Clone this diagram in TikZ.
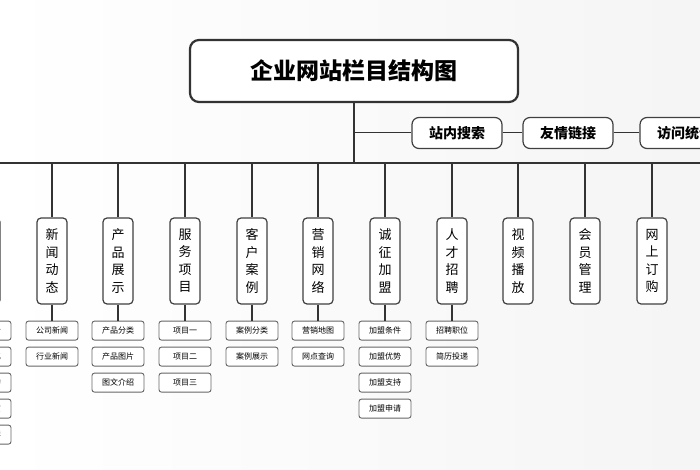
\documentclass[tikz,border=0pt]{standalone}
\usepackage{fontspec}
\usetikzlibrary{calc}
\newfontfamily\cjk{Noto Sans CJK SC}
\tikzset{
  titlebox/.style={draw=black!80, line width=2.2pt, rounded corners=9pt, fill=white,
    minimum width=328pt, minimum height=62pt, font=\cjk\bfseries\fontsize{23}{23}\selectfont},
  sidebox/.style={draw=black!75, line width=1.2pt, rounded corners=7pt, fill=white,
    minimum width=90pt, minimum height=31pt, font=\cjk\bfseries\fontsize{14}{14}\selectfont},
  colbox/.style={draw=black!75, line width=1.2pt, rounded corners=4pt, fill=white,
    minimum width=30pt, minimum height=86pt, inner sep=1pt, align=center,
    font=\cjk\fontsize{13}{17.5}\selectfont},
  subbox/.style={draw=black!60, line width=0.9pt, rounded corners=2.5pt, fill=white,
    minimum width=52pt, minimum height=19pt, inner sep=1pt, font=\cjk\fontsize{8}{8}\selectfont},
  bus/.style={draw=black!80, line width=2.4pt},
  link/.style={draw=black!80, line width=1.8pt}
}
\begin{document}
\begin{tikzpicture}[x=1pt,y=-1pt]
    \useasboundingbox (0,0) rectangle (700,470);
    \clip (0,0) rectangle (700,470);
    \shade[left color=white, right color=black!4] (0,0) rectangle (700,470);
    % title and side links
    \node[titlebox] (title) at (354,71) {企业网站栏目结构图};
    \coordinate (top) at (354,163);
    \coordinate (left) at (-5,163);
    \coordinate (right) at (705,163);
    \coordinate (fork) at (354,133);
    \node[sidebox] (search) at (457,133) {站内搜索};
    \node[sidebox] (links) at (568,133) {友情链接};
    \node[sidebox] (stats) at (685,133) {访问统计};
    \draw[bus] (title) -- (top);
    \draw[bus] (left) -- (right);
    \draw[link, line width=1pt] (fork) -- (search) -- (links) -- (stats);
    % columns
    \foreach \name/\x/\label in {c0/-15/关\\于\\我\\们, c1/52/新\\闻\\动\\态, c2/118/产\\品\\展\\示,
        c3/185/服\\务\\项\\目, c4/252/客\\户\\案\\例, c5/318/营\\销\\网\\络, c6/385/诚\\征\\加\\盟,
        c7/452/人\\才\\招\\聘, c8/518/视\\频\\播\\放, c9/585/会\\员\\管\\理, c10/652/网\\上\\订\\购,
        c11/718/在\\线\\留\\言} {
        \coordinate (\name-top) at (\x,163);
        \node[colbox] (\name) at (\x,261) {\label};
        \draw[link] (\name-top) -- (\name);
    }
    % sub items
    \foreach \col/\items in {c0/{公司简介,企业文化,组织结构,荣誉鉴赏,企业社群},
        c1/{公司新闻,行业新闻}, c2/{产品分类,产品图片,图文介绍},
        c3/{项目一,项目二,项目三}, c4/{案例分类,案例展示},
        c5/{营销地图,网点查询}, c6/{加盟条件,加盟优势,加盟支持,加盟申请},
        c7/{招聘职位,简历投递}} {
        \foreach \item [count=\i] in \items {
            \node[subbox] (\col-s\i) at ($(\col.south)+(0,26*\i)$) {\item};
        }
        \draw[link] (\col) -- (\col-s1);
    }
\end{tikzpicture}
\end{document}
